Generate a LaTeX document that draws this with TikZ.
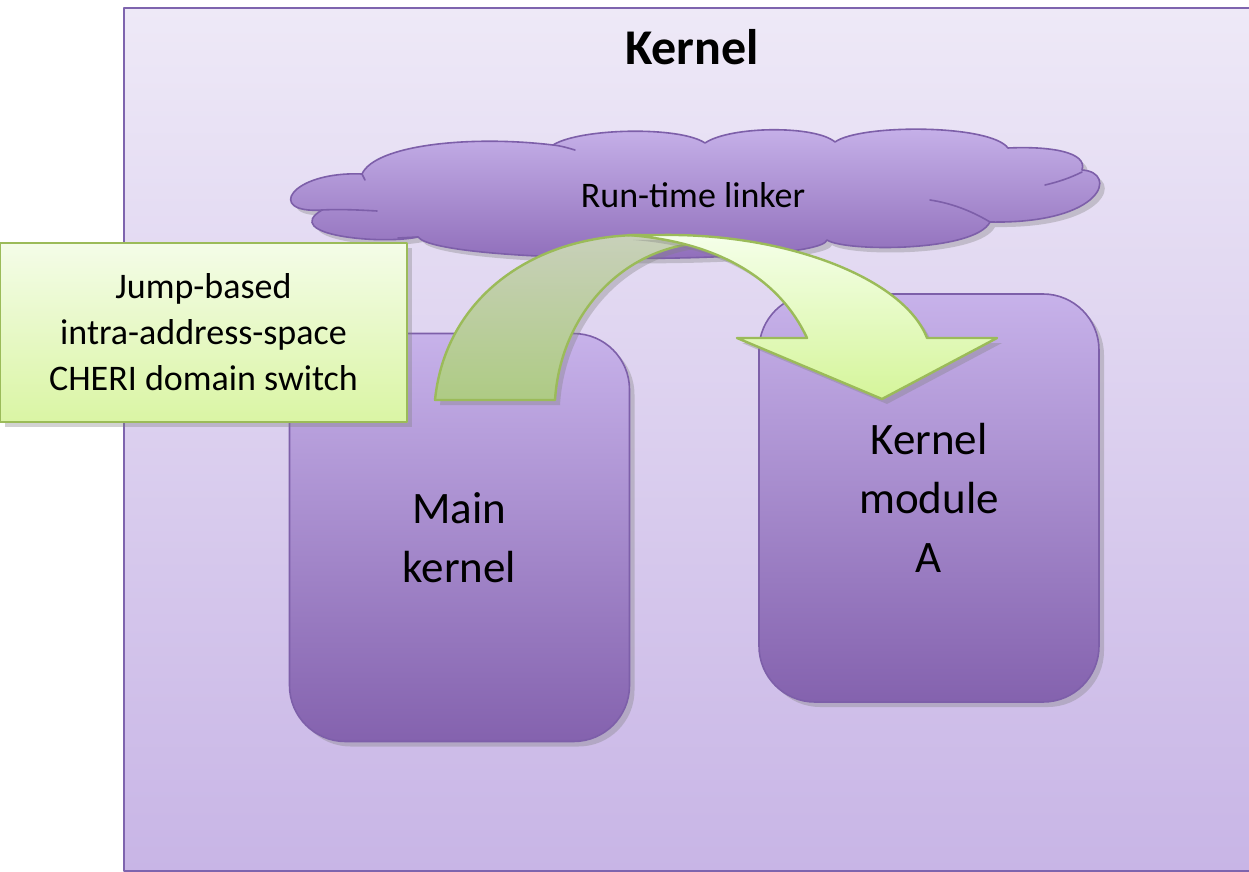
\documentclass[tikz,border=0pt]{standalone}
\usepackage{fontspec}
\setmainfont{Carlito}
\usetikzlibrary{shadows}
\definecolor{frameline}{HTML}{7E64AE}
\definecolor{frametop}{HTML}{EEE9F7}
\definecolor{framebot}{HTML}{C8B5E6}
\definecolor{boxline}{HTML}{7D5FA9}
\definecolor{boxtop}{HTML}{C7B2EA}
\definecolor{boxbot}{HTML}{8462AE}
\definecolor{cloudbot}{HTML}{8E6CB9}
\definecolor{greenline}{HTML}{9BBB59}
\definecolor{notetop}{HTML}{F4FCE8}
\definecolor{notebot}{HTML}{DAF5A4}
\definecolor{backtop}{HTML}{C8D0BA}
\definecolor{backbot}{HTML}{AECB84}
\definecolor{fronttop}{HTML}{F5FFEA}
\definecolor{frontbot}{HTML}{D5F59A}
\begin{document}
\begin{tikzpicture}[x=0.5pt, y=-0.5pt, line join=round, line cap=round,
	shade/.style={drop shadow={opacity=0.35, shadow xshift=2.5pt, shadow yshift=-2.5pt}},
	kbox/.style={draw=boxline, line width=0.8pt, rounded corners=28pt, top color=boxtop, bottom color=boxbot,
		minimum width=170pt, minimum height=204pt, align=center, font=\fontsize{22.5}{29.5}\selectfont, shade},
	ribbon/.style={draw=greenline, line width=1.2pt, shade}]
	\useasboundingbox (0,0) rectangle (1249,872);
	\fill[white] (0,0) rectangle (1249,872);
	\node (kernel) [draw=frameline, line width=0.8pt, top color=frametop, bottom color=framebot,
		minimum width=569pt, minimum height=431.5pt, shade] at (693,439.5) {};
	\node (title) at (692,47) {\fontsize{25}{30}\selectfont\bfseries Kernel};
	\path[draw=boxline, line width=0.8pt, top color=boxtop, bottom color=cloudbot, shade]
		(322,210) .. controls (265,214) and (290,171) .. (362,174)
		.. controls (375,145) and (470,135) .. (553,145)
		.. controls (580,128) and (680,126) .. (705,143)
		.. controls (730,126) and (815,125) .. (835,142)
		.. controls (860,124) and (990,124) .. (1008,148)
		.. controls (1050,146) and (1088,152) .. (1082,170)
		.. controls (1118,172) and (1105,224) .. (990,222)
		.. controls (975,252) and (845,252) .. (827,240)
		.. controls (820,265) and (440,265) .. (418,237)
		.. controls (380,245) and (280,235) .. (322,210) -- cycle;
	\draw[boxline, line width=0.8pt] (553,145) .. controls (562,146) and (568,148) .. (575,150)
		(1082,172) .. controls (1070,178) and (1058,182) .. (1045,185)
		(990,222) .. controls (970,210) and (950,203) .. (930,200)
		(418,237) -- (398,238) (322,210) .. controls (340,209) and (360,210) .. (377,211)
		(362,174) -- (365,180);
	\node (linker) [font=\fontsize{18}{22}\selectfont] at (693,195) {Run-time linker};
	\node (main) [kbox] at (459.5,537.5) {Main\\kernel};
	\node (modA) [kbox] at (929,498) {Kernel\\module\\A};
	\path[ribbon, top color=backtop, bottom color=backbot] (435,400) .. controls (445,300) and (530,236) .. (640,235)
		-- (690,244) .. controls (615,255) and (560,320) .. (555,400) -- cycle;
	\path[ribbon, top color=fronttop, bottom color=frontbot] (628,235) -- (660,235)
		.. controls (790,233) and (905,280) .. (927,338) -- (997,338) -- (882,399) -- (737,338) -- (807,338)
		.. controls (780,280) and (720,242) .. (628,235) -- cycle;
	\node (note) [draw=greenline, line width=1.2pt, top color=notetop, bottom color=notebot,
		minimum width=203.5pt, minimum height=89.5pt, align=center, shade,
		font=\fontsize{18}{23}\selectfont] at (203.5,332.5) {Jump-based\\intra-address-space\\CHERI domain switch};
\end{tikzpicture}
\end{document}
